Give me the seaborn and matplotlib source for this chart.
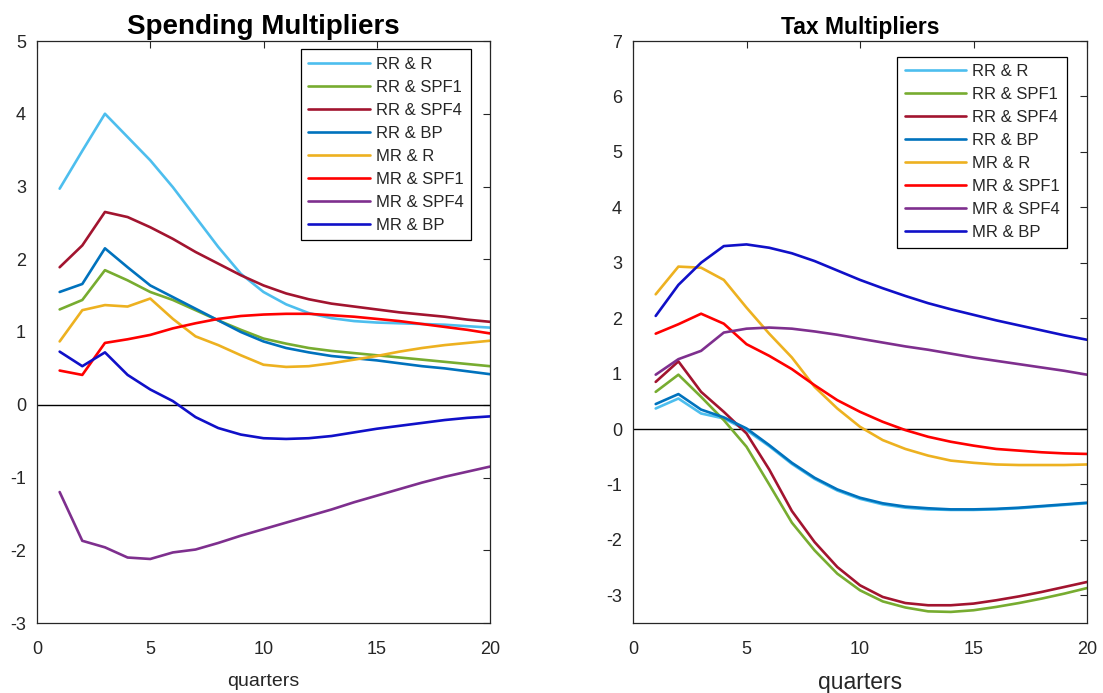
import numpy as np
import pandas as pd
import matplotlib
matplotlib.use("Agg")
import matplotlib.pyplot as plt
import seaborn as sns

quarters = list(range(1, 21))
series_names = ["RR & R", "RR & SPF1", "RR & SPF4", "RR & BP",
                "MR & R", "MR & SPF1", "MR & SPF4", "MR & BP"]
colors = ["#4DBEEE", "#77AC30", "#A2142F", "#0072BD",
          "#EDB120", "#FF0000", "#7E2F8E", "#1010C8"]

# Spending multipliers
sp_rr_r    = [2.97, 3.49, 4.00, 3.68, 3.36, 2.99, 2.58, 2.17, 1.80, 1.55, 1.38, 1.26, 1.19, 1.15, 1.13, 1.12, 1.11, 1.10, 1.08, 1.06]
sp_rr_spf1 = [1.31, 1.44, 1.85, 1.71, 1.55, 1.44, 1.30, 1.16, 1.03, 0.91, 0.84, 0.78, 0.74, 0.71, 0.68, 0.65, 0.62, 0.59, 0.56, 0.53]
sp_rr_spf4 = [1.89, 2.19, 2.65, 2.58, 2.44, 2.28, 2.10, 1.94, 1.78, 1.64, 1.53, 1.45, 1.39, 1.35, 1.31, 1.27, 1.24, 1.21, 1.17, 1.14]
sp_rr_bp   = [1.55, 1.66, 2.15, 1.89, 1.64, 1.48, 1.32, 1.16, 1.00, 0.87, 0.78, 0.72, 0.67, 0.64, 0.61, 0.57, 0.53, 0.50, 0.46, 0.42]
sp_mr_r    = [0.87, 1.30, 1.37, 1.35, 1.46, 1.18, 0.94, 0.82, 0.68, 0.55, 0.52, 0.53, 0.57, 0.62, 0.67, 0.73, 0.78, 0.82, 0.85, 0.88]
sp_mr_spf1 = [0.47, 0.41, 0.85, 0.90, 0.96, 1.05, 1.12, 1.18, 1.22, 1.24, 1.25, 1.25, 1.23, 1.21, 1.18, 1.15, 1.11, 1.07, 1.03, 0.98]
sp_mr_spf4 = [-1.20, -1.87, -1.96, -2.10, -2.12, -2.03, -1.99, -1.90, -1.80, -1.71, -1.62, -1.53, -1.44, -1.34, -1.25, -1.16, -1.07, -0.99, -0.92, -0.85]
sp_mr_bp   = [0.73, 0.53, 0.72, 0.41, 0.21, 0.05, -0.17, -0.32, -0.41, -0.46, -0.47, -0.46, -0.43, -0.38, -0.33, -0.29, -0.25, -0.21, -0.18, -0.16]

# Tax multipliers
tx_rr_r    = [0.37, 0.55, 0.28, 0.19, -0.02, -0.31, -0.63, -0.90, -1.11, -1.26, -1.36, -1.42, -1.45, -1.46, -1.46, -1.45, -1.43, -1.40, -1.37, -1.34]
tx_rr_spf1 = [0.67, 0.98, 0.58, 0.16, -0.32, -1.00, -1.69, -2.19, -2.61, -2.91, -3.11, -3.22, -3.29, -3.30, -3.27, -3.21, -3.14, -3.06, -2.97, -2.87]
tx_rr_spf4 = [0.85, 1.22, 0.67, 0.31, -0.08, -0.73, -1.48, -2.04, -2.49, -2.82, -3.03, -3.14, -3.18, -3.18, -3.15, -3.09, -3.02, -2.94, -2.85, -2.76]
tx_rr_bp   = [0.45, 0.63, 0.35, 0.21, 0.01, -0.29, -0.61, -0.88, -1.09, -1.24, -1.34, -1.40, -1.43, -1.45, -1.45, -1.44, -1.42, -1.39, -1.36, -1.33]
tx_mr_r    = [2.43, 2.93, 2.91, 2.69, 2.19, 1.72, 1.29, 0.76, 0.37, 0.04, -0.20, -0.36, -0.48, -0.57, -0.61, -0.64, -0.65, -0.65, -0.65, -0.64]
tx_mr_spf1 = [1.72, 1.89, 2.08, 1.90, 1.53, 1.32, 1.08, 0.79, 0.52, 0.31, 0.13, -0.02, -0.14, -0.23, -0.30, -0.36, -0.39, -0.42, -0.44, -0.45]
tx_mr_spf4 = [0.98, 1.26, 1.41, 1.74, 1.81, 1.83, 1.81, 1.76, 1.70, 1.63, 1.56, 1.49, 1.43, 1.36, 1.29, 1.23, 1.17, 1.11, 1.05, 0.98]
tx_mr_bp   = [2.04, 2.60, 3.00, 3.30, 3.33, 3.27, 3.17, 3.03, 2.86, 2.69, 2.54, 2.40, 2.27, 2.16, 2.06, 1.96, 1.87, 1.78, 1.69, 1.61]

spending = [sp_rr_r, sp_rr_spf1, sp_rr_spf4, sp_rr_bp, sp_mr_r, sp_mr_spf1, sp_mr_spf4, sp_mr_bp]
tax = [tx_rr_r, tx_rr_spf1, tx_rr_spf4, tx_rr_bp, tx_mr_r, tx_mr_spf1, tx_mr_spf4, tx_mr_bp]

sns.set_style("white")
plt.rcParams['font.family'] = ['Liberation Sans', 'DejaVu Sans']
plt.rcParams['axes.unicode_minus'] = False

fig = plt.figure(figsize=(11.03, 6.93), dpi=100)
axL = fig.add_axes([37/1103, 1-623/693, 453/1103, 582/693])
axR = fig.add_axes([633/1103, 1-623/693, 454/1103, 582/693])

def draw(ax, data, title, title_size, ylim, yticks, xlabel_size, xlabel_pad, leg_anchor):
    for name, vals, c in zip(series_names, data, colors):
        df = pd.DataFrame({"quarter": quarters, "value": vals})
        sns.lineplot(data=df, x="quarter", y="value", color=c, lw=1.9,
                     label=name, ax=ax)
    ax.axhline(0, color="black", lw=1.0, zorder=1)
    ax.set_xlim(0, 20)
    ax.set_ylim(*ylim)
    ax.set_xticks([0, 5, 10, 15, 20])
    ax.set_yticks(yticks)
    ax.set_title(title, fontsize=title_size, fontweight="bold", pad=5, color="black")
    ax.set_xlabel("quarters", fontsize=xlabel_size, color="#262626", labelpad=xlabel_pad)
    ax.set_ylabel("")
    for s in ax.spines.values():
        s.set_color("#262626")
        s.set_linewidth(0.9)
        s.set_visible(True)
    ax.tick_params(direction="in", length=5, width=0.8, top=True, right=True,
                   labelsize=13, colors="#262626", pad=8)
    ax.tick_params(axis="x", pad=13)
    leg = ax.legend(loc="upper left", bbox_to_anchor=leg_anchor, fontsize=12,
                    frameon=True, fancybox=False, framealpha=1,
                    edgecolor="black", handlelength=3.7, handletextpad=0.35,
                    labelspacing=0.48, borderpad=0.45, borderaxespad=0)
    leg.get_frame().set_linewidth(0.9)
    for t in leg.get_texts():
        t.set_color("#262626")

draw(axL, spending, "Spending Multipliers", 20, (-3, 5), range(-3, 6), 14, 11, (0.582, 0.986))
draw(axR, tax, "Tax Multipliers", 16.5, (-3.5, 7), range(-3, 8), 16.5, 9, (0.5815, 0.973))

fig.savefig("out.png", dpi=100)
